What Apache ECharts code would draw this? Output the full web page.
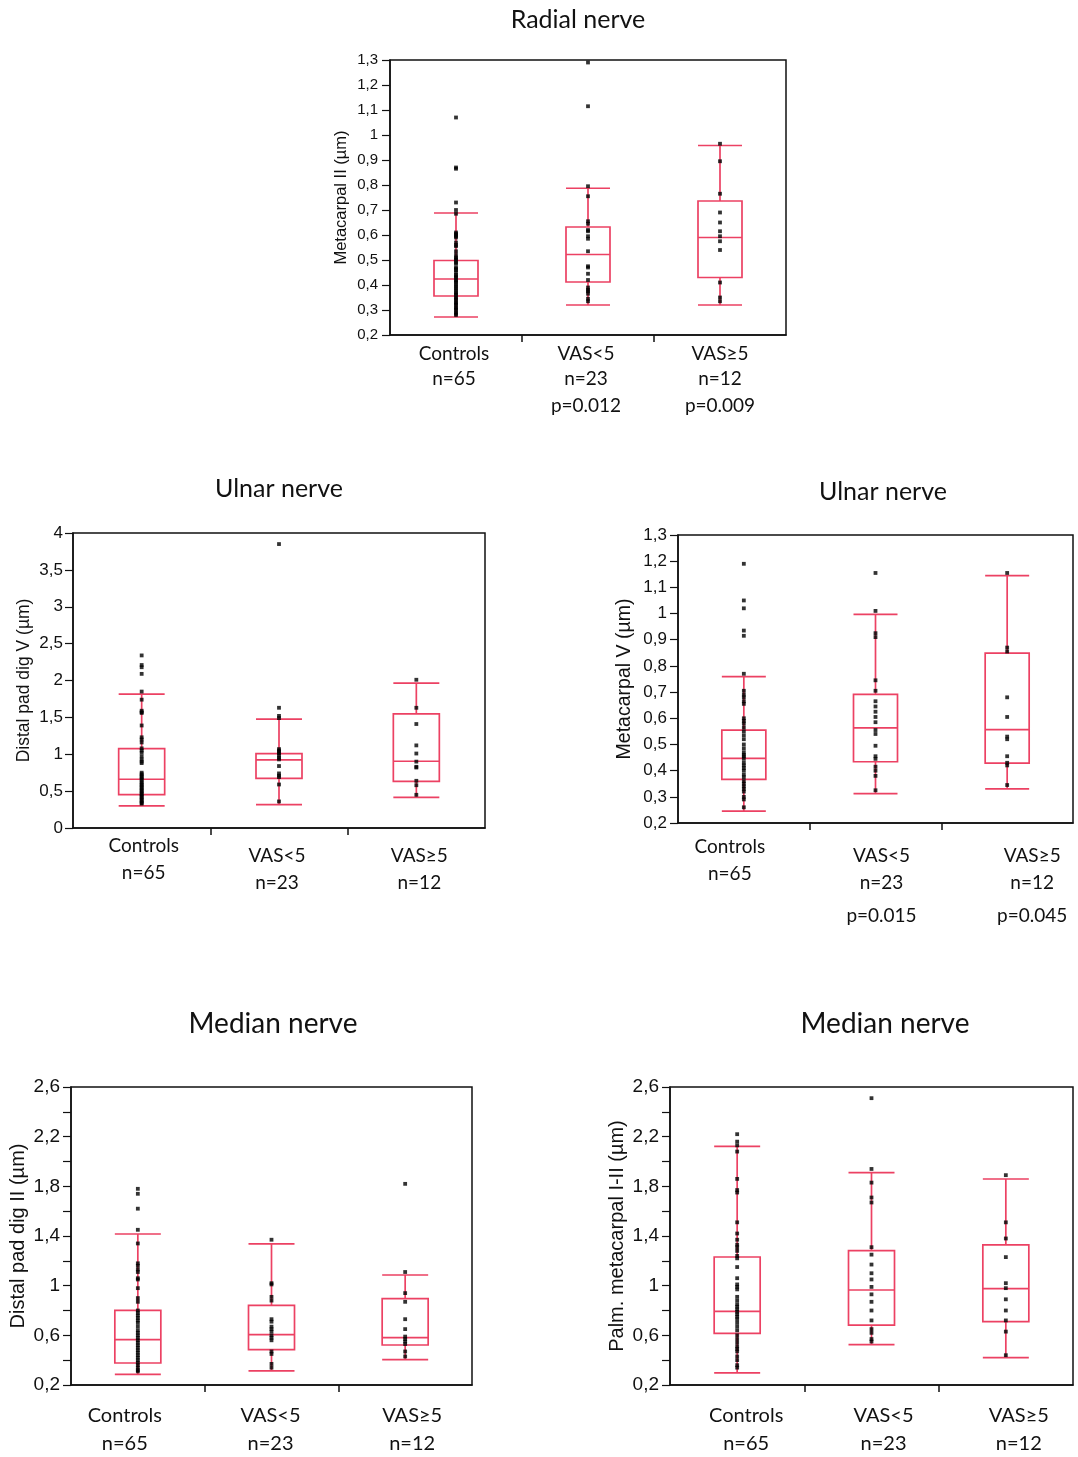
<!DOCTYPE html>
<html>
<head>
<meta charset="utf-8">
<script src="https://cdn.jsdelivr.net/npm/echarts@6/dist/echarts.min.js"></script>
<style>
  html, body { margin: 0; background: #fff; }
  #main { width: 1078px; height: 1457px; }
</style>
</head>
<body>
<div id="main"></div>
<script>
// groups
var categories = ['Controls', 'VAS<5', 'VAS≥5'];
var groupSizes = ['n=65', 'n=23', 'n=12'];
var radialP = ['', 'p=0.012', 'p=0.009'];
var ulnarMetaP = ['', 'p=0.015', 'p=0.045'];
var noP = ['', '', ''];

// box stats: [low whisker, Q1, median, Q3, high whisker]
var radialBox = [[0.272, 0.356, 0.424, 0.498, 0.688], [0.32, 0.412, 0.522, 0.632, 0.787], [0.32, 0.43, 0.59, 0.736, 0.958]];
var ulnarPadBox = [[0.30, 0.452, 0.661, 1.077, 1.814], [0.317, 0.674, 0.923, 1.009, 1.475], [0.416, 0.633, 0.905, 1.548, 1.964]];
var ulnarMetaBox = [[0.245, 0.367, 0.447, 0.555, 0.759], [0.312, 0.434, 0.563, 0.691, 0.997], [0.33, 0.429, 0.557, 0.849, 1.145]];
var medianPadBox = [[0.286, 0.377, 0.565, 0.801, 1.416], [0.313, 0.485, 0.605, 0.842, 1.336], [0.404, 0.522, 0.581, 0.895, 1.086]];
var medianPalmBox = [[0.297, 0.616, 0.793, 1.231, 2.122], [0.525, 0.683, 0.965, 1.282, 1.91], [0.42, 0.71, 0.976, 1.328, 1.859]];

// individual values
var radialControls = [1.07, 0.87, 0.865, 0.73, 0.70, 0.685, 0.61, 0.605, 0.60, 0.595, 0.59, 0.57, 0.56, 0.555, 0.535, 0.52, 0.51, 0.505, 0.50, 0.49, 0.485, 0.47, 0.465, 0.46, 0.45, 0.44, 0.435, 0.43, 0.42, 0.415, 0.41, 0.40, 0.395, 0.385, 0.38, 0.37, 0.365, 0.36, 0.35, 0.345, 0.34, 0.33, 0.325, 0.32, 0.31, 0.305, 0.30, 0.29, 0.285, 0.28];
var radialVasLow = [1.29, 1.115, 0.795, 0.755, 0.655, 0.645, 0.62, 0.615, 0.595, 0.585, 0.535, 0.475, 0.47, 0.445, 0.42, 0.39, 0.38, 0.375, 0.365, 0.345, 0.335];
var radialVasHigh = [0.965, 0.895, 0.765, 0.69, 0.65, 0.615, 0.595, 0.575, 0.54, 0.41, 0.35, 0.335];

var ulnarPadControls = [2.34, 2.21, 2.18, 2.09, 1.85, 1.74, 1.59, 1.57, 1.56, 1.39, 1.23, 1.20, 1.16, 1.08, 1.05, 1.02, 0.97, 0.93, 0.90, 0.88, 0.75, 0.73, 0.71, 0.69, 0.67, 0.65, 0.62, 0.60, 0.58, 0.56, 0.54, 0.52, 0.50, 0.48, 0.46, 0.44, 0.42, 0.40, 0.38, 0.36, 0.34, 0.33];
var ulnarPadVasLow = [3.85, 1.63, 1.52, 1.49, 1.07, 1.05, 1.03, 1.01, 0.98, 0.95, 0.93, 0.84, 0.74, 0.71, 0.69, 0.59, 0.36];
var ulnarPadVasHigh = [2.01, 1.63, 1.41, 1.12, 1.01, 0.90, 0.83, 0.82, 0.64, 0.58, 0.45];

var ulnarMetaControls = [1.19, 1.05, 1.02, 0.935, 0.915, 0.77, 0.705, 0.69, 0.68, 0.665, 0.655, 0.60, 0.59, 0.58, 0.565, 0.55, 0.535, 0.52, 0.50, 0.485, 0.47, 0.46, 0.455, 0.445, 0.43, 0.42, 0.41, 0.40, 0.385, 0.375, 0.36, 0.35, 0.34, 0.33, 0.32, 0.30, 0.29, 0.26];
var ulnarMetaVasLow = [1.155, 1.01, 0.925, 0.91, 0.745, 0.705, 0.665, 0.645, 0.625, 0.605, 0.585, 0.555, 0.54, 0.495, 0.455, 0.445, 0.415, 0.40, 0.38, 0.325];
var ulnarMetaVasHigh = [1.155, 0.87, 0.855, 0.68, 0.605, 0.53, 0.52, 0.455, 0.43, 0.42, 0.345];

var medianPadControls = [1.78, 1.74, 1.62, 1.45, 1.34, 1.18, 1.16, 1.13, 1.11, 1.06, 1.05, 0.98, 0.90, 0.87, 0.80, 0.78, 0.76, 0.74, 0.72, 0.70, 0.67, 0.64, 0.62, 0.60, 0.58, 0.56, 0.54, 0.52, 0.50, 0.48, 0.46, 0.44, 0.42, 0.40, 0.38, 0.36, 0.34, 0.32, 0.31];
var medianPadVasLow = [1.37, 1.02, 1.01, 0.91, 0.88, 0.73, 0.71, 0.67, 0.65, 0.63, 0.60, 0.58, 0.56, 0.47, 0.45, 0.37, 0.34];
var medianPadVasHigh = [1.82, 1.11, 0.94, 0.87, 0.73, 0.65, 0.59, 0.57, 0.55, 0.53, 0.47, 0.43];

var medianPalmControls = [2.22, 2.16, 2.13, 2.08, 1.86, 1.77, 1.75, 1.51, 1.42, 1.37, 1.33, 1.31, 1.28, 1.24, 1.22, 1.15, 1.06, 1.01, 0.99, 0.97, 0.91, 0.88, 0.85, 0.83, 0.81, 0.79, 0.77, 0.75, 0.73, 0.70, 0.67, 0.64, 0.60, 0.57, 0.54, 0.51, 0.49, 0.47, 0.43, 0.40, 0.36, 0.34];
var medianPalmVasLow = [2.51, 1.94, 1.83, 1.71, 1.67, 1.31, 1.25, 1.17, 1.10, 1.05, 0.99, 0.93, 0.87, 0.80, 0.72, 0.65, 0.62, 0.57, 0.55];
var medianPalmVasHigh = [1.89, 1.51, 1.38, 1.23, 1.02, 0.98, 0.89, 0.80, 0.72, 0.63, 0.44];

var BOX_COLOR = '#ec4163';
var INK = '#111';
var CAT_FONT = 'Lato, "Open Sans", sans-serif';
var AXIS_FONT = '"Liberation Sans", Arial, sans-serif';

// 面板布局 (shift = horizontal nudge of each group label, px)
var panels = [
  { title: 'Radial nerve', tx: 578, ty: 19, titleFont: 25, yName: 'Metacarpal II (µm)',
    grid: [390, 60, 396, 275], min: 0.2, max: 1.3, step: 0.1, every: 1,
    box: radialBox, dots: [radialControls, radialVasLow, radialVasHigh], p: radialP,
    boxW: 44, tickFont: 15, tickMargin: 12, nameFont: 16.5, nameGap: 40,
    catFont: 19, lineH: 25.5, catMargin: 6, spacer: 0, pLineH: 27, shift: [-2, -2, 0] },
  { title: 'Ulnar nerve', tx: 279, ty: 488, titleFont: 25, yName: 'Distal pad dig V (µm)',
    grid: [73, 533, 412, 295], min: 0, max: 4, step: 0.5, every: 1,
    box: ulnarPadBox, dots: [ulnarPadControls, ulnarPadVasLow, ulnarPadVasHigh], p: noP,
    boxW: 46, tickFont: 17, tickMargin: 10, nameFont: 17.5, nameGap: 40,
    catFont: 19, lineH: 27, catMargin: 4.5, spacer: 10, pLineH: 27, shift: [2, -2, 3] },
  { title: 'Ulnar nerve', tx: 883, ty: 491, titleFont: 25, yName: 'Metacarpal V (µm)',
    grid: [678, 535, 395, 288], min: 0.2, max: 1.3, step: 0.1, every: 1,
    box: ulnarMetaBox, dots: [ulnarMetaControls, ulnarMetaVasLow, ulnarMetaVasHigh], p: ulnarMetaP,
    boxW: 44, tickFont: 17, tickMargin: 11, nameFont: 19.5, nameGap: 43,
    catFont: 19, lineH: 27, catMargin: 10.5, spacer: 9, pLineH: 39, shift: [-14, 6, 25] },
  { title: 'Median nerve', tx: 273, ty: 1023, titleFont: 28, yName: 'Distal pad dig II (µm)',
    grid: [71, 1087, 401, 298], min: 0.2, max: 2.6, step: 0.2, every: 2,
    box: medianPadBox, dots: [medianPadControls, medianPadVasLow, medianPadVasHigh], p: noP,
    boxW: 46, tickFont: 19, tickMargin: 11, nameFont: 20, nameGap: 43,
    catFont: 20, lineH: 28, catMargin: 17, spacer: 0, pLineH: 28, shift: [-13, -1, 7] },
  { title: 'Median nerve', tx: 885, ty: 1023, titleFont: 28, yName: 'Palm. metacarpal I-II (µm)',
    grid: [670, 1087, 403, 298], min: 0.2, max: 2.6, step: 0.2, every: 2,
    box: medianPalmBox, dots: [medianPalmControls, medianPalmVasLow, medianPalmVasHigh], p: noP,
    boxW: 46, tickFont: 19, tickMargin: 11, nameFont: 20, nameGap: 43,
    catFont: 20, lineH: 28, catMargin: 17, spacer: 0, pLineH: 28, shift: [9, 12, 13] }
];

// 1,3 style labels
function fmtComma(v) {
  return String(+v.toFixed(2)).replace('.', ',');
}

// padding that moves centred text by d px
function shiftPad(d) {
  return d > 0 ? [0, 0, 0, 2 * d] : [0, -2 * d, 0, 0];
}

var option = {
  animation: false,
  backgroundColor: '#fff',
  title: [],
  grid: [],
  xAxis: [],
  yAxis: [],
  series: []
};

panels.forEach(function (pn, i) {
  option.title.push({
    text: pn.title,
    left: pn.tx,
    top: pn.ty - pn.titleFont * 0.46,
    textAlign: 'center',
    padding: 0,
    textStyle: { fontFamily: CAT_FONT, fontSize: pn.titleFont, fontWeight: 'normal', color: INK }
  });

  option.grid.push({
    left: pn.grid[0], top: pn.grid[1], width: pn.grid[2], height: pn.grid[3],
    show: true, borderColor: INK, borderWidth: 1.5, backgroundColor: 'transparent'
  });

  var rich = { s: { lineHeight: pn.spacer, fontSize: 1 } };
  pn.shift.forEach(function (d, g) {
    rich['a' + g] = { fontFamily: CAT_FONT, fontSize: pn.catFont, color: INK, lineHeight: pn.lineH, padding: shiftPad(d) };
    rich['p' + g] = { fontFamily: CAT_FONT, fontSize: pn.catFont, color: INK, lineHeight: pn.pLineH, padding: shiftPad(d) };
  });

  // category axis (labels)
  option.xAxis.push({
    gridIndex: i,
    type: 'category',
    position: 'bottom',
    data: categories,
    axisLine: { show: true, lineStyle: { color: INK, width: 1.5 } },
    axisTick: { show: false },
    axisLabel: {
      interval: 0,
      margin: pn.catMargin,
      verticalAlign: 'top',
      rich: rich,
      formatter: function (value, idx) {
        var s = '';
        if (idx > 0 && pn.spacer > 0) s += '{s| }\n';
        s += '{a' + idx + '|' + value + '}\n{a' + idx + '|' + groupSizes[idx] + '}';
        if (pn.p[idx]) s += '\n{p' + idx + '|' + pn.p[idx] + '}';
        return s;
      }
    },
    splitLine: { show: false }
  });
  // separator ticks between groups
  option.xAxis.push({
    gridIndex: i,
    type: 'value',
    position: 'bottom',
    min: 0,
    max: 3,
    interval: 1,
    axisLine: { show: false },
    axisTick: { show: true, customValues: [1, 2], length: 7, lineStyle: { color: INK, width: 1.5 } },
    axisLabel: { show: false },
    splitLine: { show: false }
  });

  option.yAxis.push({
    gridIndex: i,
    type: 'value',
    min: pn.min,
    max: pn.max,
    interval: pn.step,
    name: pn.yName,
    nameLocation: 'middle',
    nameRotate: 90,
    nameGap: pn.nameGap,
    nameTextStyle: { fontFamily: AXIS_FONT, fontSize: pn.nameFont, color: INK },
    axisLine: { show: true, lineStyle: { color: INK, width: 1.5 } },
    axisTick: { show: true, length: 8, lineStyle: { color: INK, width: 1.2 } },
    axisLabel: {
      margin: pn.tickMargin,
      fontFamily: AXIS_FONT,
      fontSize: pn.tickFont,
      color: INK,
      formatter: function (v) {
        var k = Math.round((v - pn.min) / pn.step);
        return k % pn.every === 0 ? fmtComma(v) : '';
      }
    },
    splitLine: { show: false }
  });

  option.series.push({
    type: 'boxplot',
    xAxisIndex: i * 2,
    yAxisIndex: i,
    data: pn.box,
    boxWidth: [pn.boxW, pn.boxW],
    silent: true,
    itemStyle: { color: 'rgba(0,0,0,0)', borderColor: BOX_COLOR, borderWidth: 1.7 },
    emphasis: { disabled: true }
  });

  var pts = [];
  pn.dots.forEach(function (arr, g) {
    arr.forEach(function (v) {
      pts.push([g, v]);
    });
  });
  option.series.push({
    type: 'scatter',
    xAxisIndex: i * 2,
    yAxisIndex: i,
    data: pts,
    symbol: 'rect',
    symbolSize: 3.8,
    silent: true,
    itemStyle: { color: '#000' },
    z: 5
  });
});

var chart = echarts.init(document.getElementById('main'), null, { renderer: 'canvas' });
chart.setOption(option);
</script>
</body>
</html>
